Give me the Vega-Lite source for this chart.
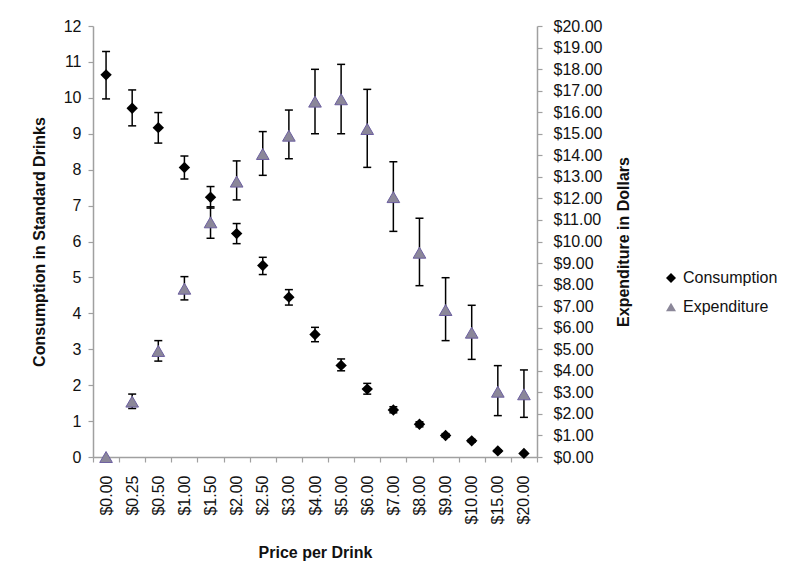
{
  "$schema": "https://vega.github.io/schema/vega-lite/v6.json",
  "autosize": {"type": "none"},
  "width": 444,
  "height": 431,
  "padding": {"left": 93, "top": 26, "right": 263, "bottom": 128},
  "background": "white",
  "config": {
    "font": "Liberation Sans",
    "view": {"stroke": null},
    "axis": {
      "domainColor": "#a0a0a0",
      "tickColor": "#a0a0a0",
      "domainWidth": 1.5,
      "tickWidth": 1.2,
      "grid": false,
      "labelOverlap": false,
      "labelFont": "Liberation Sans",
      "labelFontSize": 16,
      "labelColor": "#111111",
      "titleFont": "Liberation Sans",
      "titleFontSize": 16,
      "titleFontWeight": "bold",
      "titleColor": "#111111",
      "tickSize": 5
    }
  },
  "data": {
    "values": [
      {"price": "$0.00", "cons": 10.64, "cons_lo": 9.97, "cons_hi": 11.29, "exp": 0.0, "exp_lo": null, "exp_hi": null},
      {"price": "$0.25", "cons": 9.71, "cons_lo": 9.22, "cons_hi": 10.22, "exp": 2.57, "exp_lo": 2.25, "exp_hi": 2.92},
      {"price": "$0.50", "cons": 9.17, "cons_lo": 8.74, "cons_hi": 9.59, "exp": 4.92, "exp_lo": 4.45, "exp_hi": 5.40},
      {"price": "$1.00", "cons": 8.06, "cons_lo": 7.74, "cons_hi": 8.38, "exp": 7.81, "exp_lo": 7.29, "exp_hi": 8.37},
      {"price": "$1.50", "cons": 7.23, "cons_lo": 6.93, "cons_hi": 7.53, "exp": 10.89, "exp_lo": 10.15, "exp_hi": 11.61},
      {"price": "$2.00", "cons": 6.22, "cons_lo": 5.94, "cons_hi": 6.50, "exp": 12.78, "exp_lo": 11.93, "exp_hi": 13.74},
      {"price": "$2.50", "cons": 5.33, "cons_lo": 5.08, "cons_hi": 5.56, "exp": 14.06, "exp_lo": 13.07, "exp_hi": 15.10},
      {"price": "$3.00", "cons": 4.45, "cons_lo": 4.23, "cons_hi": 4.66, "exp": 14.91, "exp_lo": 13.84, "exp_hi": 16.10},
      {"price": "$4.00", "cons": 3.41, "cons_lo": 3.21, "cons_hi": 3.61, "exp": 16.49, "exp_lo": 15.00, "exp_hi": 17.99},
      {"price": "$5.00", "cons": 2.55, "cons_lo": 2.40, "cons_hi": 2.73, "exp": 16.60, "exp_lo": 15.00, "exp_hi": 18.22},
      {"price": "$6.00", "cons": 1.89, "cons_lo": 1.75, "cons_hi": 2.05, "exp": 15.22, "exp_lo": 13.44, "exp_hi": 17.06},
      {"price": "$7.00", "cons": 1.31, "cons_lo": 1.23, "cons_hi": 1.40, "exp": 12.06, "exp_lo": 10.47, "exp_hi": 13.70},
      {"price": "$8.00", "cons": 0.91, "cons_lo": 0.84, "cons_hi": 0.98, "exp": 9.48, "exp_lo": 7.95, "exp_hi": 11.08},
      {"price": "$9.00", "cons": 0.60, "cons_lo": 0.55, "cons_hi": 0.65, "exp": 6.82, "exp_lo": 5.40, "exp_hi": 8.32},
      {"price": "$10.00", "cons": 0.45, "cons_lo": 0.41, "cons_hi": 0.49, "exp": 5.77, "exp_lo": 4.53, "exp_hi": 7.04},
      {"price": "$15.00", "cons": 0.17, "cons_lo": 0.14, "cons_hi": 0.20, "exp": 3.03, "exp_lo": 1.92, "exp_hi": 4.24},
      {"price": "$20.00", "cons": 0.10, "cons_lo": 0.08, "cons_hi": 0.12, "exp": 2.91, "exp_lo": 1.84, "exp_hi": 4.04}
    ]
  },
  "encoding": {
    "x": {
      "field": "price",
      "type": "nominal",
      "sort": null,
      "scale": {"paddingInner": 0, "paddingOuter": 0},
      "axis": {
        "title": "Price per Drink",
        "labelAngle": -90,
        "tickBand": "extent",
        "labelPadding": 13,
        "titlePadding": 21
      }
    }
  },
  "layer": [
    {
      "layer": [
        {
          "mark": {"type": "rule", "color": "#000000", "strokeWidth": 1.5},
          "encoding": {
            "y": {"field": "cons_lo", "type": "quantitative", "scale": {"domain": [0, 12], "nice": false}, "axis": {"title": "Consumption in Standard Drinks", "values": [0,1,2,3,4,5,6,7,8,9,10,11,12], "labelOverlap": false, "labelPadding": 7, "titlePadding": 16}},
            "y2": {"field": "cons_hi"}
          }
        },
        {
          "mark": {"type": "tick", "color": "#000000", "size": 8, "thickness": 1.5, "opacity": 1},
          "encoding": {
            "y": {"field": "cons_lo", "type": "quantitative", "axis": {"title": "Consumption in Standard Drinks", "values": [0,1,2,3,4,5,6,7,8,9,10,11,12], "labelOverlap": false, "labelPadding": 7, "titlePadding": 16}}
          }
        },
        {
          "mark": {"type": "tick", "color": "#000000", "size": 8, "thickness": 1.5, "opacity": 1},
          "encoding": {
            "y": {"field": "cons_hi", "type": "quantitative", "axis": {"title": "Consumption in Standard Drinks", "values": [0,1,2,3,4,5,6,7,8,9,10,11,12], "labelOverlap": false, "labelPadding": 7, "titlePadding": 16}}
          }
        },
        {
          "mark": {"type": "point", "shape": "diamond", "filled": true, "size": 130, "opacity": 1},
          "encoding": {
            "y": {
              "field": "cons", "type": "quantitative",
              "axis": {"title": "Consumption in Standard Drinks", "values": [0,1,2,3,4,5,6,7,8,9,10,11,12], "labelOverlap": false, "labelPadding": 7, "titlePadding": 16}
            },
            "color": {
              "datum": "Consumption",
              "scale": {"domain": ["Consumption", "Expenditure"], "range": ["#000000", "#8b8799"]},
              "legend": {"title": null, "orient": "none", "legendX": 570, "legendY": 244, "labelFontSize": 16, "labelFont": "Liberation Sans", "labelColor": "#111111", "symbolSize": 100, "rowPadding": 13, "labelOffset": 4, "padding": 0}
            },
            "shape": {
              "datum": "Consumption",
              "scale": {"domain": ["Consumption", "Expenditure"], "range": ["diamond", "triangle-up"]},
              "legend": {"title": null, "orient": "none", "legendX": 570, "legendY": 244, "labelFontSize": 16, "labelFont": "Liberation Sans", "labelColor": "#111111", "symbolSize": 100, "rowPadding": 13, "labelOffset": 4, "padding": 0}
            }
          }
        }
      ]
    },
    {
      "layer": [
        {
          "mark": {"type": "rule", "color": "#000000", "strokeWidth": 1.5},
          "encoding": {
            "y": {"field": "exp_lo", "type": "quantitative", "scale": {"domain": [0, 20], "nice": false}, "axis": {"title": "Expenditure in Dollars", "orient": "right", "titleAngle": 270, "titleBaseline": "top", "values": [0,1,2,3,4,5,6,7,8,9,10,11,12,13,14,15,16,17,18,19,20], "labelOverlap": false, "format": "$.2f", "labelPadding": 11, "titlePadding": 14}},
            "y2": {"field": "exp_hi"}
          }
        },
        {
          "mark": {"type": "tick", "color": "#000000", "size": 8, "thickness": 1.5, "opacity": 1},
          "encoding": {
            "y": {"field": "exp_lo", "type": "quantitative", "axis": {"title": "Expenditure in Dollars", "orient": "right", "titleAngle": 270, "titleBaseline": "top", "values": [0,1,2,3,4,5,6,7,8,9,10,11,12,13,14,15,16,17,18,19,20], "labelOverlap": false, "format": "$.2f", "labelPadding": 11, "titlePadding": 14}}
          }
        },
        {
          "mark": {"type": "tick", "color": "#000000", "size": 8, "thickness": 1.5, "opacity": 1},
          "encoding": {
            "y": {"field": "exp_hi", "type": "quantitative", "axis": {"title": "Expenditure in Dollars", "orient": "right", "titleAngle": 270, "titleBaseline": "top", "values": [0,1,2,3,4,5,6,7,8,9,10,11,12,13,14,15,16,17,18,19,20], "labelOverlap": false, "format": "$.2f", "labelPadding": 11, "titlePadding": 14}}
          }
        },
        {
          "mark": {"type": "point", "shape": "triangle-up", "filled": true, "size": 160, "opacity": 1, "stroke": "#6c5fa0", "strokeWidth": 1},
          "encoding": {
            "y": {
              "field": "exp", "type": "quantitative",
              "axis": {"title": "Expenditure in Dollars", "orient": "right", "titleAngle": 270, "titleBaseline": "top", "values": [0,1,2,3,4,5,6,7,8,9,10,11,12,13,14,15,16,17,18,19,20], "labelOverlap": false, "format": "$.2f", "labelPadding": 11, "titlePadding": 14}
            },
            "color": {"datum": "Expenditure"},
            "shape": {"datum": "Expenditure"}
          }
        }
      ]
    }
  ],
  "resolve": {"scale": {"y": "independent"}}
}
